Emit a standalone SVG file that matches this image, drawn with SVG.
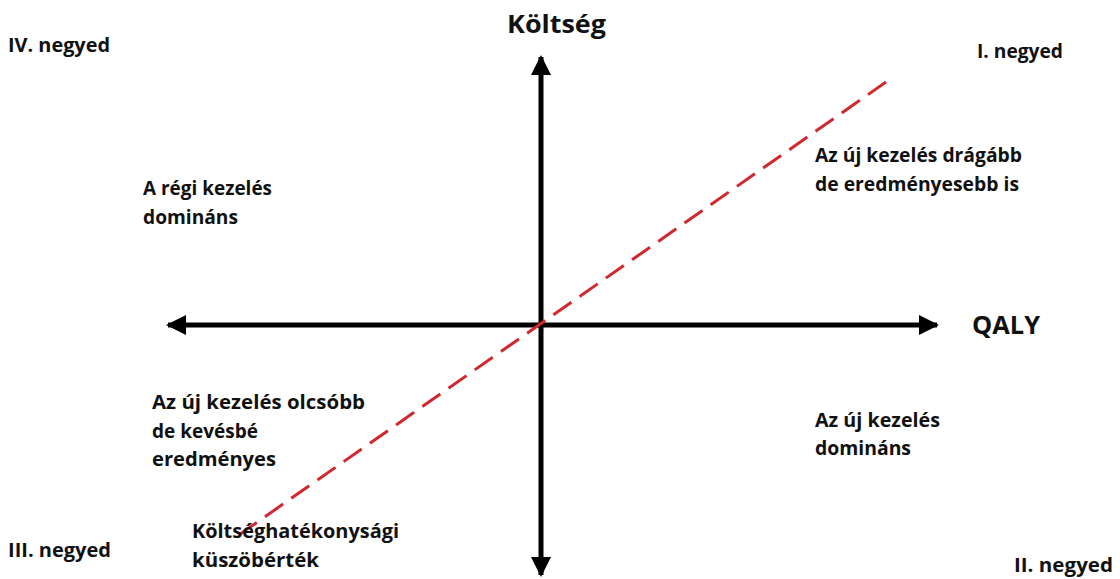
<svg xmlns="http://www.w3.org/2000/svg" width="1120" height="579" viewBox="0 0 1120 579">
<style>
text{font-family:"Open Sans","Liberation Sans",sans-serif;font-weight:700;fill:#111}
.s{font-size:19px}
.q{font-size:20px}
.t{font-size:25px}
.axis{stroke:#000;stroke-width:5;fill:none}
.thr{stroke:#d0282e;stroke-width:3;stroke-dasharray:22 10;fill:none}
</style>
<defs>
<marker id="ah" viewBox="0 0 10 10" refX="9" refY="5" markerWidth="4.4" markerHeight="4" markerUnits="strokeWidth" orient="auto-start-reverse">
<path d="M0,0 L10,5 L0,10 z" fill="#000"/>
</marker>
</defs>
<rect width="1120" height="579" fill="#fff"/>
<g id="connectors">
<line class="axis" x1="168" y1="325" x2="937" y2="325" marker-start="url(#ah)" marker-end="url(#ah)"/>
<line class="axis" x1="541" y1="57" x2="541" y2="575" marker-start="url(#ah)" marker-end="url(#ah)"/>
<line id="threshold-line" class="thr" x1="886" y1="82" x2="236" y2="537"/>
</g>
<g id="y-label"><text class="t" x="507" y="33" textLength="99" lengthAdjust="spacingAndGlyphs">Költség</text></g>
<g id="x-label"><text class="t" x="972" y="334" textLength="68" lengthAdjust="spacingAndGlyphs">QALY</text></g>
<g id="q4"><text class="q" x="8" y="52" textLength="102" lengthAdjust="spacingAndGlyphs">IV. negyed</text></g>
<g id="q1"><text class="q" x="977" y="58" textLength="86" lengthAdjust="spacingAndGlyphs">I. negyed</text></g>
<g id="q3"><text class="q" x="8" y="557" textLength="103" lengthAdjust="spacingAndGlyphs">III. negyed</text></g>
<g id="q2"><text class="q" x="1014" y="572" textLength="99" lengthAdjust="spacingAndGlyphs">II. negyed</text></g>
<g id="old-dominant">
<text class="s" x="143" y="195" textLength="129" lengthAdjust="spacingAndGlyphs">A régi kezelés</text>
<text class="s" x="143" y="224" textLength="95" lengthAdjust="spacingAndGlyphs">domináns</text>
</g>
<g id="more-expensive">
<text class="s" x="815" y="162" textLength="207" lengthAdjust="spacingAndGlyphs">Az új kezelés drágább</text>
<text class="s" x="815" y="191" textLength="204" lengthAdjust="spacingAndGlyphs">de eredményesebb is</text>
</g>
<g id="cheaper">
<text class="s" x="152" y="409" textLength="213" lengthAdjust="spacingAndGlyphs">Az új kezelés olcsóbb</text>
<text class="s" x="152" y="438" textLength="106" lengthAdjust="spacingAndGlyphs">de kevésbé</text>
<text class="s" x="152" y="466" textLength="124" lengthAdjust="spacingAndGlyphs">eredményes</text>
</g>
<g id="new-dominant">
<text class="s" x="815" y="427" textLength="125" lengthAdjust="spacingAndGlyphs">Az új kezelés</text>
<text class="s" x="815" y="455" textLength="96" lengthAdjust="spacingAndGlyphs">domináns</text>
</g>
<g id="threshold">
<text class="s" x="192" y="538" textLength="207" lengthAdjust="spacingAndGlyphs">Költséghatékonysági</text>
<text class="s" x="192" y="567" textLength="127" lengthAdjust="spacingAndGlyphs">küszöbérték</text>
</g>
</svg>
